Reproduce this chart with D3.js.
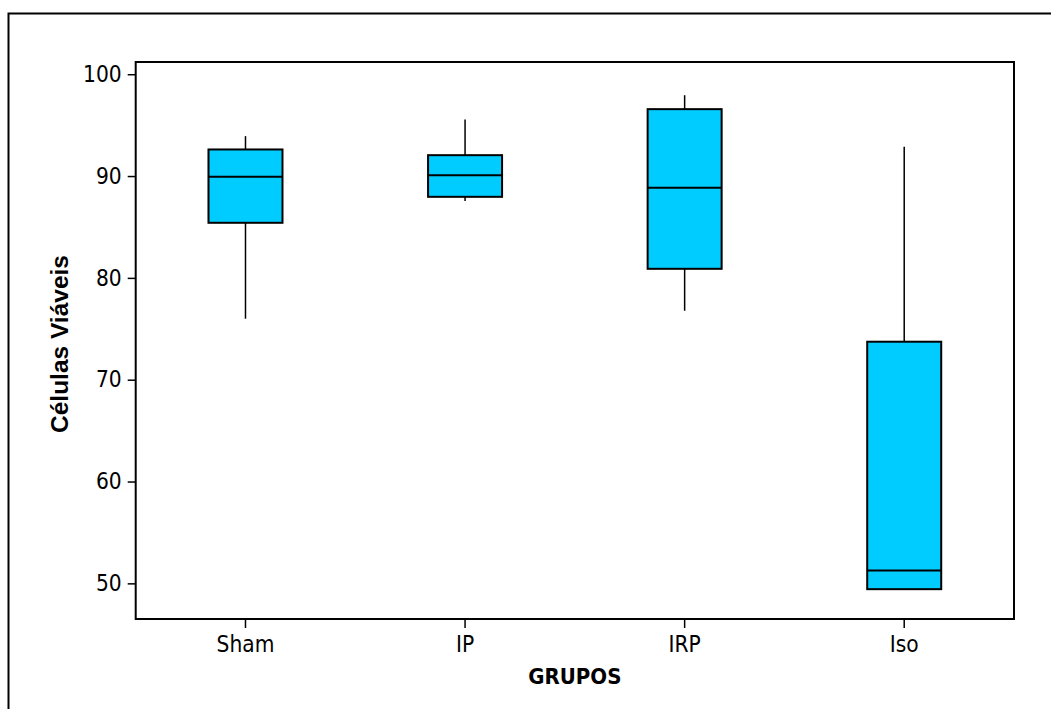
<!DOCTYPE html>
<html><head><meta charset="utf-8">
<script src="https://cdn.jsdelivr.net/npm/d3@7"></script>
<style>body{margin:0;background:#fff}svg{display:block}</style>
</head><body>
<svg id="chart" width="1051" height="709"></svg>
<script>
const categories = ["Sham", "IP", "IRP", "Iso"];
const whiskerLow  = [75.99, 87.54, 76.77, 49.4];
const q1          = [85.41, 87.96, 80.89, 49.43];
const median      = [89.92, 90.09, 88.84, 51.26];
const q3          = [92.61, 92.05, 96.57, 73.73];
const whiskerHigh = [93.92, 95.55, 97.94, 92.87];
const yTicks = [50, 60, 70, 80, 90, 100];

const svg = d3.select("#chart");
const pL = 135.7, pR = 1014, pT = 62, pB = 619;

// outer frame (extends beyond picture right/bottom)
svg.append("rect").attr("x", 8.5).attr("y", 13.5).attr("width", 1100).attr("height", 800)
  .attr("fill", "none").attr("stroke", "#000").attr("stroke-width", 2);

const x = d3.scaleBand().domain(categories).range([pL, pR]).padding(0);
const y = d3.scaleLinear().domain([46.5, 101.2]).range([pB, pT]);

const fontTick = "'DejaVu Sans Condensed', 'DejaVu Sans', sans-serif";

// axes
const yAxis = svg.append("g").attr("transform", `translate(${pL},0)`)
  .call(d3.axisLeft(y).tickValues(yTicks).tickSize(8).tickPadding(6));
yAxis.select(".domain").remove();
yAxis.selectAll("line").attr("stroke", "#000").attr("stroke-width", 1.5);
yAxis.selectAll("text").attr("font-family", fontTick).attr("font-size", 22.5).attr("fill", "#000")
  .attr("font-stretch", "condensed");

const xAxis = svg.append("g").attr("transform", `translate(0,${pB})`)
  .call(d3.axisBottom(x).tickSize(9).tickPadding(8));
xAxis.select(".domain").remove();
xAxis.selectAll("line").attr("stroke", "#000").attr("stroke-width", 1.5);
xAxis.selectAll("text").attr("font-family", fontTick).attr("font-size", 22.5).attr("fill", "#000")
  .attr("font-stretch", "condensed");

// plot frame
svg.append("rect").attr("x", pL).attr("y", pT).attr("width", pR - pL).attr("height", pB - pT)
  .attr("fill", "none").attr("stroke", "#000").attr("stroke-width", 2);

// boxes
const bw = 74;
const data = categories.map((c, i) => ({c, lo: whiskerLow[i], q1: q1[i], med: median[i], q3: q3[i], hi: whiskerHigh[i]}));
const g = svg.append("g");
data.forEach(d => {
  const cx = x(d.c) + x.bandwidth() / 2;
  g.append("line").attr("x1", cx).attr("x2", cx).attr("y1", y(d.hi)).attr("y2", y(d.q3))
    .attr("stroke", "#000").attr("stroke-width", 1.5);
  g.append("line").attr("x1", cx).attr("x2", cx).attr("y1", y(d.q1)).attr("y2", y(d.lo))
    .attr("stroke", "#000").attr("stroke-width", 1.5);
  g.append("rect").attr("x", cx - bw / 2).attr("y", y(d.q3)).attr("width", bw).attr("height", y(d.q1) - y(d.q3))
    .attr("fill", "#00CCFF").attr("stroke", "#000").attr("stroke-width", 2);
  g.append("line").attr("x1", cx - bw / 2).attr("x2", cx + bw / 2).attr("y1", y(d.med)).attr("y2", y(d.med))
    .attr("stroke", "#000").attr("stroke-width", 2);
});

// axis titles
svg.append("text").attr("x", (pL + pR) / 2).attr("y", 683.5).attr("text-anchor", "middle")
  .attr("font-family", fontTick).attr("font-weight", "bold").attr("font-size", 22).attr("fill", "#000")
  .attr("font-stretch", "condensed")
  .text("GRUPOS");
svg.append("text").attr("transform", `translate(67.5,${(pT + pB) / 2 + 3.5}) rotate(-90)`)
  .attr("text-anchor", "middle")
  .attr("font-family", "'Liberation Sans', Arial, sans-serif").attr("font-weight", "bold").attr("font-size", 24.5).attr("fill", "#000")
  .text("Células Viáveis");
</script>
</body></html>
